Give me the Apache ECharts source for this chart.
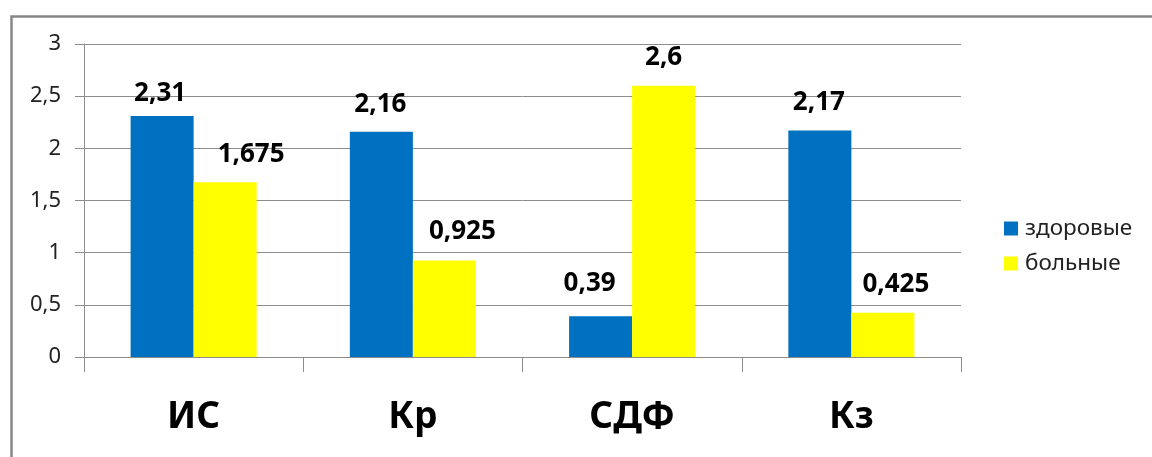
<!DOCTYPE html>
<html><head><meta charset="utf-8">
<script src="https://cdn.jsdelivr.net/npm/echarts@6/dist/echarts.min.js"></script>
<style>html,body{margin:0;padding:0;background:#fff}#c{width:1152px;height:457px}</style>
</head><body><div id="c"></div>
<script>
const categories = ['ИС', 'Кр', 'СДФ', 'Кз'];
const healthy = [2.31, 2.16, 0.39, 2.17];
const sick = [1.675, 0.925, 2.6, 0.425];
const seriesNames = ['здоровые', 'больные'];
const yTicks = [0, 0.5, 1, 1.5, 2, 2.5, 3];

// label nudges (style only: where the original's data labels were dragged)
const healthyLabelNudge = [[-2, 6], [-1, 1], [-11, -5], [-1, 0]];
const sickLabelNudge = [[26, 0], [18, -1], [0, 0], [13, 0]];

const fmt = v => String(v).replace('.', ',');
const chart = echarts.init(document.getElementById('c'));
const FONT = 'Noto Sans';
const labelCfg = {
  show: true, position: 'top', distance: 15,
  fontFamily: FONT, fontWeight: 'bold', fontSize: 26, color: '#000',
  formatter: p => fmt(p.value)
};
const withNudge = (vals, nudge) => vals.map((v, i) => ({ value: v, label: { offset: nudge[i] } }));
chart.setOption({
  animation: false,
  textStyle: { fontFamily: FONT },
  graphic: [{
    type: 'rect', left: 9, top: 14, z: 100,
    shape: { x: 0, y: 0, width: 2000, height: 1000 },
    style: { fill: 'none', stroke: '#868686', lineWidth: 2.5 }
  }],
  grid: { left: 84, right: 191, top: 44, bottom: 100, containLabel: false },
  legend: {
    orient: 'vertical', left: 999, top: 212,
    itemWidth: 14, itemHeight: 14, itemGap: 12,
    icon: 'rect',
    textStyle: { fontFamily: FONT, fontSize: 22.5, color: '#222', lineHeight: 23, padding: [0, 0, 0, 2] },
    data: seriesNames
  },
  xAxis: {
    type: 'category', data: categories, boundaryGap: true,
    axisLine: { lineStyle: { color: '#8c8c8c', width: 1 } },
    axisTick: { show: true, length: 15, lineStyle: { color: '#8c8c8c' } },
    axisLabel: { margin: 60, verticalAlign: 'middle', fontFamily: FONT, fontWeight: 'bold', fontSize: 37, color: '#000' }
  },
  yAxis: {
    type: 'value', min: yTicks[0], max: yTicks[yTicks.length - 1], interval: 0.5,
    axisLine: { show: true, lineStyle: { color: '#8c8c8c', width: 1 } },
    axisTick: { show: true, length: 9, lineStyle: { color: '#8c8c8c' } },
    splitLine: { lineStyle: { color: '#8c8c8c', width: 1 } },
    axisLabel: { margin: 23, fontFamily: FONT, fontSize: 22, color: '#222', formatter: v => fmt(v) }
  },
  series: [
    { name: seriesNames[0], type: 'bar', data: withNudge(healthy, healthyLabelNudge), itemStyle: { color: '#0070C0' },
      barGap: '0%', barCategoryGap: '42.5%', label: labelCfg },
    { name: seriesNames[1], type: 'bar', data: withNudge(sick, sickLabelNudge), itemStyle: { color: '#FFFF00' },
      barGap: '0%', barCategoryGap: '42.5%', label: labelCfg }
  ]
});
</script></body></html>
